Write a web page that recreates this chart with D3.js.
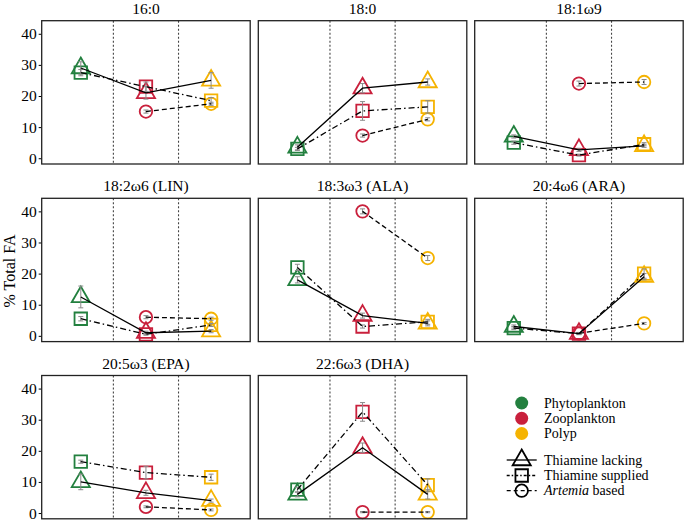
<!DOCTYPE html>
<html><head><meta charset="utf-8">
<script src="https://cdn.jsdelivr.net/npm/d3@7"></script>
<style>body{margin:0;background:#fff}svg{display:block}</style>
</head><body>
<script>
const fattyAcids = ["16:0","18:0","18:1ω9","18:2ω6 (LIN)","18:3ω3 (ALA)","20:4ω6 (ARA)","20:5ω3 (EPA)","22:6ω3 (DHA)"];
const stages = ["Phytoplankton","Zooplankton","Polyp"];
const stageColors = ["#23803f","#c9203c","#f5b301"];
const yTicks = [0,10,20,30,40];
const treatments = ["Thiamine lacking","Thiamine supplied","Artemia based"];
const thiamineLacking = [[29,21,25],[3.5,22.5,24.5],[7,2.7,4],[12.5,1,1.5],[18,6.5,4],[3,0.7,19],[10,6.5,4],[6,21,6]];
const thiamineLackingErr = [[2,2,2.5],[0.8,1.5,1],[0.5,0.5,0.5],[3.5,0.5,0.5],[1,0.8,0.8],[0.5,0.3,1],[2.5,0.8,0.5],[0.8,1.5,1.5]];
const thiamineSupplied = [[27.5,23,18.5],[3,15.2,16.5],[5,1,4.5],[5.5,0.5,3.5],[22,3,4.5],[2.5,0.7,20],[16.5,13,11.5],[7.5,32.5,9]];
const thiamineSuppliedErr = [[1,1.5,1],[0.5,3,2],[0.5,0.3,0.5],[0.7,0.3,0.5],[1,0.5,0.8],[0.5,0.3,1.5],[0.5,2,1],[0.8,3,2]];
const artemiaBased = [[null,15,17.5],[null,7.3,12.5],[null,24,24.5],[null,6,5.5],[null,40,25],[null,0.8,4],[null,2,1],[null,0.3,0.3]];
const artemiaBasedErr = [[null,0.5,0.5],[null,0.5,0.5],[null,0.8,0.8],[null,0.5,0.5],[null,0.8,0.8],[null,0.3,0.3],[null,0.3,0.3],[null,0.2,0.2]];

const FONT = "'Liberation Serif', 'Times New Roman', Times, 'DejaVu Serif', serif";
const W = 686, H = 523;
const svg = d3.select("body").append("svg").attr("width", W).attr("height", H)
  .attr("font-family", FONT);

const panelLefts = [41.7, 258.3, 474.7], panelW = 208.5;
const panelTops = [20.7, 198.3, 375.5], panelH = 143.3;
const dashes = [null, "6,3,1.5,3", "5,3"];
const seriesVals = [thiamineLacking, thiamineSupplied, artemiaBased];
const seriesErr = [thiamineLackingErr, thiamineSuppliedErr, artemiaBasedErr];

function shapePath(kind, cx, cy, s) {
  if (kind === 0) {
    const side = s * 1.45, h = side * Math.sqrt(3) / 2;
    return `M${cx},${cy - 2*h/3}L${cx + side/2},${cy + h/3}L${cx - side/2},${cy + h/3}Z`;
  } else if (kind === 1) {
    return `M${cx - s/2},${cy - s/2}h${s}v${s}h${-s}Z`;
  } else {
    const r = s/2;
    return `M${cx - r},${cy}a${r},${r} 0 1,0 ${2*r},0a${r},${r} 0 1,0 ${-2*r},0Z`;
  }
}
function txt(sel) { return sel.attr("font-family", FONT).attr("fill", "#000"); }

fattyAcids.forEach((fa, i) => {
  const col = i % 3, row = Math.floor(i / 3);
  const x0 = panelLefts[col], y0 = panelTops[row];
  const x = d3.scaleLinear().domain([0.4, 3.6]).range([x0, x0 + panelW]);
  const y = d3.scaleLinear().domain([-1.85, 44.2]).range([y0 + panelH, y0]);
  const g = svg.append("g");

  txt(g.append("text")).attr("x", x0 + panelW/2).attr("y", y0 - 7).attr("text-anchor", "middle")
    .attr("font-size", 15.5).text(fa);

  [1.5, 2.5].forEach(v => g.append("line").attr("x1", x(v)).attr("x2", x(v))
    .attr("y1", y0).attr("y2", y0 + panelH).attr("stroke", "#444").attr("stroke-width", 1.1)
    .attr("stroke-dasharray", "2,2"));

  if (col === 0) {
    const ax = g.append("g").attr("transform", `translate(${x0},0)`)
      .call(d3.axisLeft(y).tickValues(yTicks).tickSize(3).tickPadding(2));
    ax.attr("font-family", FONT).attr("font-size", 15.5);
    ax.select(".domain").remove();
    ax.selectAll("line").attr("stroke", "#000");
    txt(ax.selectAll("text")).attr("font-size", 15.5);
  }

  seriesVals.forEach((vals, t) => {
    vals[i].forEach((v, k) => {
      if (v == null) return;
      g.append("path").attr("d", shapePath(t, x(k + 1), y(v), 12.5))
        .attr("fill", "none").attr("stroke", stageColors[k]).attr("stroke-width", 1.8);
    });
  });
  seriesVals.forEach((vals, t) => {
    vals[i].forEach((v, k) => {
      if (v == null) return;
      const e = seriesErr[t][i][k], cx = x(k + 1);
      const eb = g.append("g").attr("stroke", "#8a8a8a").attr("stroke-width", 1);
      eb.append("line").attr("x1", cx).attr("x2", cx).attr("y1", y(v - e)).attr("y2", y(v + e));
      eb.append("line").attr("x1", cx - 2.5).attr("x2", cx + 2.5).attr("y1", y(v - e)).attr("y2", y(v - e));
      eb.append("line").attr("x1", cx - 2.5).attr("x2", cx + 2.5).attr("y1", y(v + e)).attr("y2", y(v + e));
    });
  });
  seriesVals.forEach((vals, t) => {
    const pts = vals[i].map((v, k) => [k + 1, v]).filter(d => d[1] != null);
    const line = d3.line().x(d => x(d[0])).y(d => y(d[1]));
    g.append("path").attr("d", line(pts)).attr("fill", "none").attr("stroke", "#000")
      .attr("stroke-width", 1.3).attr("stroke-dasharray", dashes[t]);
  });

  g.append("rect").attr("x", x0).attr("y", y0).attr("width", panelW).attr("height", panelH)
    .attr("fill", "none").attr("stroke", "#222").attr("stroke-width", 1.3);
});

txt(svg.append("text")).attr("transform", "translate(14.5,271) rotate(-90)").attr("text-anchor", "middle")
  .attr("font-size", 16).text("% Total FA");

const legColorY = [403, 418.3, 433.5];
stages.forEach((s, k) => {
  svg.append("circle").attr("cx", 521.7).attr("cy", legColorY[k]).attr("r", 6.5).attr("fill", stageColors[k]);
  txt(svg.append("text")).attr("x", 544).attr("y", legColorY[k] + 4.5).attr("font-size", 14).text(s);
});
const legShapeY = [460, 475.5, 490.7];
treatments.forEach((tname, t) => {
  const cy = legShapeY[t];
  svg.append("line").attr("x1", 506.7).attr("x2", 536.7).attr("y1", cy).attr("y2", cy)
    .attr("stroke", "#000").attr("stroke-width", 1.3).attr("stroke-dasharray", t === 0 ? null : (t === 1 ? "3,2,1.5,2" : "4,3"));
  svg.append("path").attr("d", shapePath(t, 521.7, cy, 12.5)).attr("fill", "none")
    .attr("stroke", "#000").attr("stroke-width", 1.8);
  const tx = txt(svg.append("text")).attr("x", 544).attr("y", cy + 4.5).attr("font-size", 14);
  if (t === 2) {
    tx.append("tspan").attr("font-style", "italic").text("Artemia");
    tx.append("tspan").text(" based");
  } else tx.text(tname);
});
</script>
</body></html>
